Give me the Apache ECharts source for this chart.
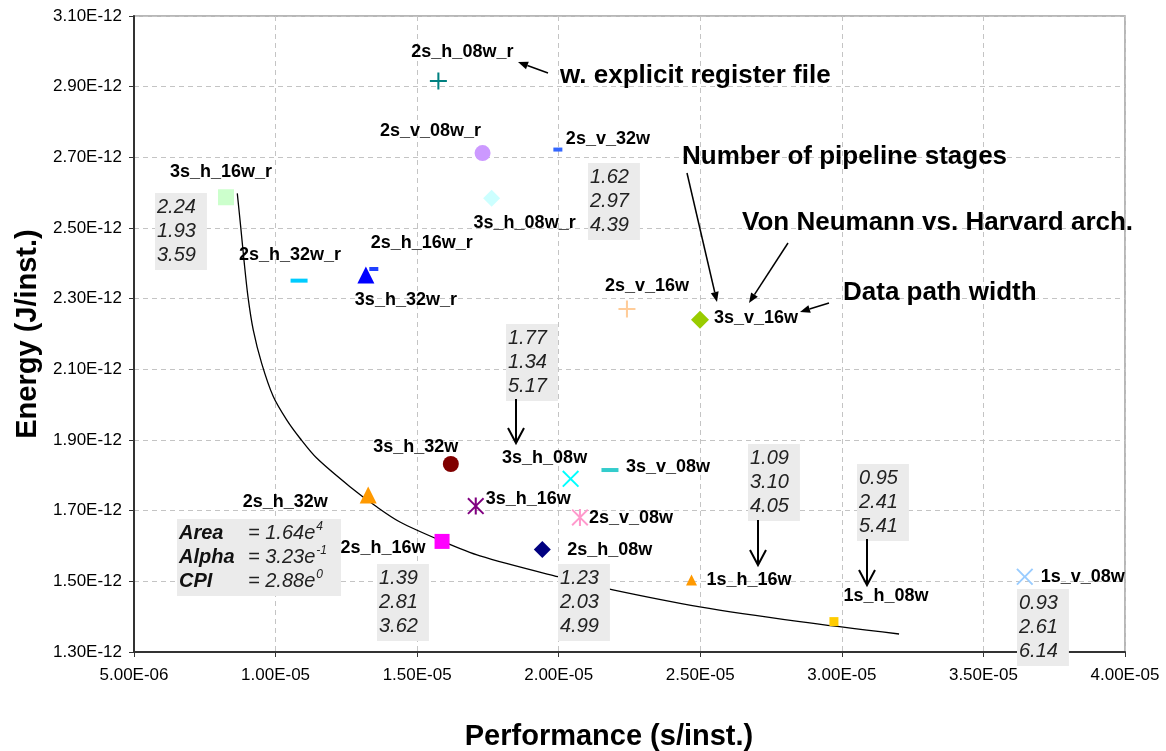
<!DOCTYPE html>
<html>
<head>
<meta charset="utf-8">
<script src="https://cdn.jsdelivr.net/npm/echarts@6/dist/echarts.min.js"></script>
<style>
  html, body { margin: 0; padding: 0; background: #fff; }
  #chart { width: 1166px; height: 751px; }
</style>
</head>
<body>
<div id="chart"></div>
<script>
// design points, performance in 1e-6 s/inst., energy in 1e-12 J/inst.
var pointNames = ['2s_h_08w_r', '2s_v_08w_r', '2s_v_32w', '3s_h_16w_r', '3s_h_08w_r', '2s_h_16w_r',
    '3s_h_32w_r', '2s_h_32w_r', '2s_v_16w', '3s_v_16w', '3s_h_32w', '3s_h_08w', '3s_v_08w',
    '3s_h_16w', '2s_v_08w', '2s_h_32w', '2s_h_16w', '2s_h_08w', '1s_h_16w', '1s_h_08w', '1s_v_08w']
var perf = [15.75, 17.31, 19.97, 8.25, 17.63, 13.47,
    13.19, 10.83, 22.41, 24.99, 16.19, 20.42, 21.81,
    17.07, 20.75, 13.27, 15.88, 19.42, 24.69, 29.72, 36.46]
var energy = [2.916, 2.712, 2.722, 2.587, 2.584, 2.384,
    2.367, 2.351, 2.271, 2.240, 1.832, 1.790, 1.815,
    1.713, 1.681, 1.744, 1.613, 1.590, 1.504, 1.386, 1.513]

// iso curve (Area / Alpha / CPI)
var curvePerf = [8.648, 8.768, 8.884, 9.025, 9.213, 9.509, 9.919, 10.392, 10.862, 11.451,
    12.627, 13.570, 14.393, 15.876, 17.218, 19.972, 21.914, 24.986, 28.517, 32.02]
var curveEnergy = [2.598, 2.504, 2.409, 2.306, 2.211, 2.117, 2.023, 1.957, 1.905, 1.849,
    1.768, 1.711, 1.668, 1.614, 1.572, 1.513, 1.476, 1.428, 1.386, 1.351]

// axes
var xMin = 5, xMax = 40, xStep = 5
var yMin = 1.3, yMax = 3.1, yStep = 0.2

// numbers in the grey boxes
var boxNumbers = [
    ['2.24', '1.93', '3.59'],
    ['1.62', '2.97', '4.39'],
    ['1.77', '1.34', '5.17'],
    ['1.09', '3.10', '4.05'],
    ['0.95', '2.41', '5.41'],
    ['1.39', '2.81', '3.62'],
    ['1.23', '2.03', '4.99'],
    ['0.93', '2.61', '6.14']
]
var fitNames = ['Area', 'Alpha', 'CPI']
var fitMantissa = ['1.64', '3.23', '2.88']
var fitExponent = ['4', '-1', '0']

var callouts = ['w. explicit register file', 'Number of pipeline stages',
    'Von Neumann vs. Harvard arch.', 'Data path width']

var FONT = '"Liberation Sans", Arial, Helvetica, sans-serif'
var PLUS = 'path://M44,0H56V44H100V56H56V100H44V56H0V44H44Z'
var CROSS = 'path://M0,8L8,0L50,42L92,0L100,8L58,50L100,92L92,100L50,58L8,100L0,92L42,50Z'
var STAR = CROSS + 'M44,0H56V100H44Z'

// marker look and label placement per point
var pointStyle = {
    '2s_h_08w_r': { symbol: PLUS, size: 17, color: '#008080', off: [24, -29], align: 'center' },
    '2s_v_08w_r': { symbol: 'circle', size: 16, color: '#cc99ff', off: [-52, -22], align: 'center' },
    '2s_v_32w': { symbol: 'rect', size: [9, 4], color: '#3366ff', off: [8, -11], align: 'left' },
    '3s_h_16w_r': { symbol: 'rect', size: 16, color: '#ccffcc', off: [-5, -25], align: 'center' },
    '3s_h_08w_r': { symbol: 'diamond', size: 17, color: '#ccffff', off: [33, 25], align: 'center' },
    '2s_h_16w_r': { symbol: 'rect', size: [9, 4], color: '#2040ff', off: [48, -26], align: 'center' },
    '3s_h_32w_r': { symbol: 'triangle', size: 17, color: '#0000ff', off: [40, 25], align: 'center' },
    '2s_h_32w_r': { symbol: 'rect', size: [17, 4], color: '#00ccff', off: [-9, -26], align: 'center' },
    '2s_v_16w': { symbol: PLUS, size: 17, color: '#ffcc99', off: [20, -23], align: 'center' },
    '3s_v_16w': { symbol: 'diamond', size: 18, color: '#99cc00', off: [14, -2], align: 'left' },
    '3s_h_32w': { symbol: 'circle', size: 16, color: '#800000', off: [-35, -17], align: 'center' },
    '3s_h_08w': { symbol: CROSS, size: 17, color: '#00ffff', off: [-26, -21], align: 'center' },
    '3s_v_08w': { symbol: 'rect', size: [17, 4], color: '#33cccc', off: [16, -3], align: 'left' },
    '3s_h_16w': { symbol: STAR, size: 17, color: '#800080', off: [10, -7], align: 'left' },
    '2s_v_08w': { symbol: STAR, size: 17, color: '#ff99cc', off: [9, 1], align: 'left' },
    '2s_h_32w': { symbol: 'triangle', size: 17, color: '#ff9900', off: [-83, 7], align: 'center' },
    '2s_h_16w': { symbol: 'rect', size: 15, color: '#ff00ff', off: [-59, 7], align: 'center' },
    '2s_h_08w': { symbol: 'diamond', size: 17, color: '#000080', off: [25, 0], align: 'left' },
    '1s_h_16w': { symbol: 'triangle', size: 11, color: '#ff9900', off: [15, 0], align: 'left' },
    '1s_h_08w': { symbol: 'rect', size: 9, color: '#ffcc00', off: [52, -26], align: 'center' },
    '1s_v_08w': { symbol: CROSS, size: 17, color: '#99ccff', off: [16, 0], align: 'left' }
}

// pixel spots of the grey boxes and callouts
var boxSpots = [[155, 193], [588, 163], [506, 324], [748, 444], [857, 464], [377, 564], [558, 564], [1017, 589]]
var fitSpot = [177, 519]
var calloutSpots = [[560, 76], [682, 157], [742, 223], [843, 293]]
var arrows = [
    { from: [548, 73], to: [518, 62], big: false },
    { from: [687, 173], to: [717, 302], big: false },
    { from: [788, 243], to: [749, 303], big: false },
    { from: [829, 303], to: [800, 312], big: false },
    { from: [516, 399], to: [516, 443], big: true },
    { from: [758, 520], to: [758, 565], big: true },
    { from: [867, 539], to: [867, 585], big: true }
]

function sci(v, exp) {
    var s = (v * Math.pow(10, exp)).toExponential(2).split('e')
    var e = parseInt(s[1], 10)
    return s[0] + 'E' + (e < 0 ? '-' : '+') + (Math.abs(e) < 10 ? '0' : '') + Math.abs(e)
}

function arrowGraphic(a) {
    var dx = a.to[0] - a.from[0], dy = a.to[1] - a.from[1]
    var len = Math.sqrt(dx * dx + dy * dy)
    var ux = dx / len, uy = dy / len
    var hl = a.big ? 15 : 10, hw = a.big ? 8 : 4
    var bx = a.to[0] - ux * hl, by = a.to[1] - uy * hl
    var p1 = [bx - uy * hw, by + ux * hw], p2 = [bx + uy * hw, by - ux * hw]
    var items = [{
        type: 'line', z: 100,
        shape: { x1: a.from[0], y1: a.from[1], x2: a.big ? a.to[0] : bx, y2: a.big ? a.to[1] : by },
        style: { stroke: '#000', lineWidth: a.big ? 2 : 1.5 }
    }]
    if (a.big) {
        items.push({ type: 'polyline', z: 100, shape: { points: [p1, a.to, p2] },
            style: { stroke: '#000', lineWidth: 2, fill: null } })
    } else {
        items.push({ type: 'polygon', z: 100, shape: { points: [p1, a.to, p2] },
            style: { fill: '#000' } })
    }
    return items
}

var scatterData = pointNames.map(function (n, i) {
    var st = pointStyle[n]
    return {
        name: n,
        value: [perf[i], energy[i]],
        symbol: st.symbol,
        symbolSize: st.size,
        itemStyle: { color: st.color, opacity: 1 },
        label: { show: true, position: 'inside', offset: st.off, align: st.align, verticalAlign: 'middle',
            formatter: n, color: '#000', fontWeight: 'bold', fontSize: 18, fontFamily: FONT }
    }
})

var graphics = []
boxNumbers.forEach(function (nums, i) {
    graphics.push({
        type: 'text', z: 100, x: boxSpots[i][0], y: boxSpots[i][1],
        style: { text: nums.join('\n'), font: 'italic 20px ' + FONT, fill: '#222', lineHeight: 24,
            backgroundColor: '#ebebeb', padding: [2, 11, 3, 2], align: 'left', verticalAlign: 'top' }
    })
})
graphics.push({
    type: 'text', z: 100, x: fitSpot[0], y: fitSpot[1],
    style: {
        text: fitNames.map(function (n, i) {
            return '{l|' + n + '}{v|= ' + fitMantissa[i] + 'e}{s|' + fitExponent[i] + '}'
        }).join('\n'),
        backgroundColor: '#ebebeb', padding: [2, 14, 3, 2], align: 'left', verticalAlign: 'top', fill: '#111',
        rich: {
            l: { font: 'bold italic 20px ' + FONT, width: 69, lineHeight: 24, fill: '#111' },
            v: { font: 'italic 20px ' + FONT, lineHeight: 24, fill: '#222' },
            s: { font: 'italic 12px ' + FONT, lineHeight: 24, verticalAlign: 'top', fill: '#222', padding: [0, 0, 8, 1] }
        }
    }
})
callouts.forEach(function (t, i) {
    graphics.push({
        type: 'text', z: 100, x: calloutSpots[i][0], y: calloutSpots[i][1],
        style: { text: t, font: 'bold 26px ' + FONT, fill: '#000', align: 'left', verticalAlign: 'middle' }
    })
})
arrows.forEach(function (a) { graphics = graphics.concat(arrowGraphic(a)) })

var chart = echarts.init(document.getElementById('chart'))
chart.setOption({
    animation: false,
    backgroundColor: '#fff',
    textStyle: { fontFamily: FONT },
    grid: {
        left: 134, right: 41, top: 16, bottom: 99, outerBoundsMode: 'none',
        show: true, borderColor: '#a0a0a0', borderWidth: 1.5
    },
    xAxis: {
        type: 'value', min: xMin, max: xMax, interval: xStep,
        name: 'Performance (s/inst.)', nameLocation: 'middle', nameGap: 70,
        nameTextStyle: { fontSize: 29, fontWeight: 'bold', color: '#000', fontFamily: FONT, padding: [0, 41, 0, 0] },
        axisLine: { lineStyle: { color: '#333', width: 2 } },
        axisTick: { show: true, length: 5, lineStyle: { color: '#333' } },
        axisLabel: { fontSize: 17, color: '#000', margin: 15, formatter: function (v) { return sci(v, -6) } },
        splitLine: { show: true, lineStyle: { color: '#c4c4c4', type: [5, 4], width: 1 } }
    },
    yAxis: {
        type: 'value', min: yMin, max: yMax, interval: yStep,
        name: 'Energy (J/inst.)', nameLocation: 'middle', nameGap: 91, nameRotate: 90,
        nameTextStyle: { fontSize: 29, fontWeight: 'bold', color: '#000', fontFamily: FONT },
        axisLine: { show: true, lineStyle: { color: '#333', width: 2 } },
        axisTick: { show: true, length: 5, lineStyle: { color: '#333' } },
        axisLabel: { fontSize: 17, color: '#000', margin: 12, formatter: function (v) { return sci(v, -12) } },
        splitLine: { show: true, lineStyle: { color: '#c4c4c4', type: [5, 4], width: 1 } }
    },
    series: [
        {
            type: 'line', name: 'curve', smooth: 0.3, symbol: 'none', silent: true, z: 2,
            lineStyle: { color: '#000', width: 1.3 },
            data: curvePerf.map(function (x, i) { return [x, curveEnergy[i]] })
        },
        {
            type: 'scatter', name: 'designs', z: 3, silent: true,
            data: scatterData
        }
    ],
    graphic: graphics
})
</script>
</body>
</html>
